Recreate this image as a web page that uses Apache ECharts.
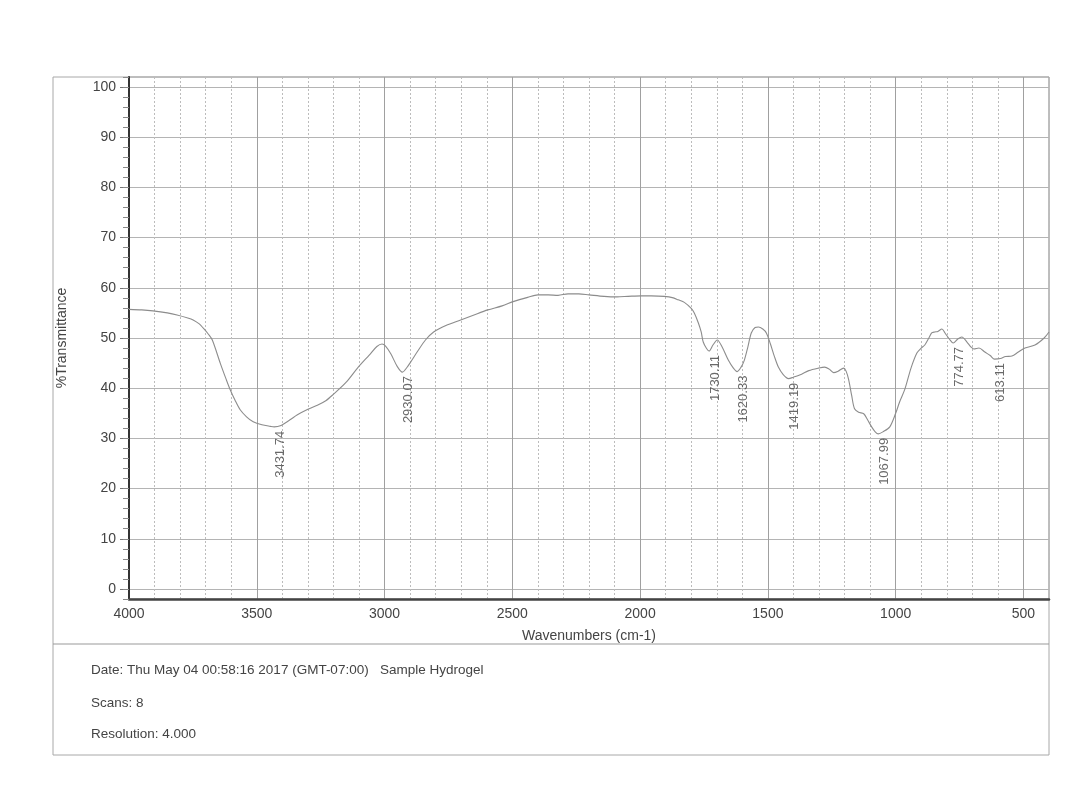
<!DOCTYPE html>
<html>
<head>
<meta charset="utf-8">
<script src="https://cdn.jsdelivr.net/npm/echarts@6/dist/echarts.min.js"></script>
<style>
html,body{margin:0;padding:0;background:#fff;}
#chart{width:1089px;height:797px;}
</style>
</head>
<body>
<div id="chart"></div>
<script>
// Wavenumbers (cm-1) and %Transmittance
const wavenumbers = [4000,3950,3906,3850,3812,3770,3749,3725,3710,3690,3674,3643,3620,3604,3585,3565,3540,3514,3480,3447,3431.74,3408,3370,3341,3300,3263,3230,3204,3150,3106,3060,3030,3010,2996,2975,2950,2930.07,2910,2898,2870,2840,2808,2760,2702,2650,2596,2540,2494,2440,2400,2360,2321,2282,2240,2200,2141,2090,2047,1996,1957,1906,1870,1851,1827,1800,1788,1772,1761,1753,1740,1730.11,1715,1698,1680,1655,1635,1620.33,1605,1592,1578,1565,1550,1537,1520,1506,1490,1475,1459,1440,1419.19,1400,1368,1340,1302,1278,1260,1243,1225,1204,1194,1184,1172,1161,1145,1125,1110,1094,1080,1067.99,1050,1023,1000,985,964,940,917,900,886,870,859,847,835,819,807,790,774.77,757,741,721,705,694,674,651,630,613.11,590,570,545,520,494,455,419,400];
const transmittance = [55.7,55.6,55.4,55.0,54.6,54.0,53.6,52.8,52.0,50.8,49.6,45.0,41.8,39.7,37.6,35.7,34.3,33.3,32.7,32.4,32.3,32.5,33.7,34.7,35.8,36.6,37.5,38.6,41.2,44.0,46.6,48.3,48.8,48.4,46.8,44.3,43.2,44.3,45.2,47.4,49.6,51.2,52.5,53.6,54.6,55.6,56.4,57.3,58.1,58.6,58.6,58.5,58.8,58.8,58.6,58.3,58.2,58.3,58.4,58.4,58.3,58.0,57.6,57.1,55.9,55.0,53.0,51.2,49.2,47.9,47.4,48.6,49.6,48.3,45.6,44.0,43.3,44.2,45.6,48.3,51.0,52.1,52.2,51.8,51.0,48.8,46.4,44.2,42.7,41.9,42.2,42.8,43.5,44.0,44.2,43.8,43.1,43.4,44.0,43.4,41.7,38.5,35.9,35.2,34.9,33.7,32.3,31.3,30.9,31.3,32.3,35.0,37.2,39.8,44.0,47.0,48.0,48.6,50.0,51.0,51.2,51.3,51.8,51.0,49.8,49.0,49.8,50.2,49.2,48.2,47.8,48.0,47.2,46.5,45.8,45.9,46.3,46.4,47.2,48.0,48.6,50.0,51.2];

// Labelled peaks
const peakWavenumbers = [3431.74, 2930.07, 1730.11, 1620.33, 1419.19, 1067.99, 774.77, 613.11];
const peakTransmittance = [32.3, 43.2, 47.4, 43.3, 41.9, 30.9, 49.0, 45.8];

// Tick labels
const xMajorTicks = [4000, 3500, 3000, 2500, 2000, 1500, 1000, 500];
const yMajorTicks = [0, 10, 20, 30, 40, 50, 60, 70, 80, 90, 100];

const infoLines = [
  'Date: Thu May 04 00:58:16 2017 (GMT-07:00)   Sample Hydrogel',
  'Scans: 8',
  'Resolution: 4.000'
];

const FONT = "'Liberation Sans', Arial, sans-serif";
const TXT = '#444';
const INFO_FONT = "13.5px 'Liberation Sans', Arial, sans-serif";

const spectrum = wavenumbers.map((w, i) => [w, transmittance[i]]);
const peaks = peakWavenumbers.map((w, i) => [w, peakTransmittance[i]]);

const chart = echarts.init(document.getElementById('chart'), null, {renderer: 'canvas'});

chart.setOption({
  backgroundColor: '#fff',
  animation: false,
  textStyle: {fontFamily: FONT},
  grid: {
    left: 129, top: 77, width: 920, height: 522,
    show: true, borderColor: '#a8a8a8', borderWidth: 1, backgroundColor: 'transparent'
  },
  xAxis: [
    {
      type: 'value', position: 'bottom', inverse: true,
      min: 400, max: 4000, interval: 100,
      axisLine: {show: false, onZero: false}, axisTick: {show: false}, axisLabel: {show: false},
      splitLine: {show: true, lineStyle: {color: '#bcbcbc', width: 1, type: [2, 2]}}
    },
    {
      type: 'value', position: 'bottom', inverse: true,
      min: 400, max: 4000,
      name: 'Wavenumbers (cm-1)', nameLocation: 'middle', nameGap: 30,
      nameTextStyle: {color: TXT, fontSize: 14, fontFamily: FONT},
      axisLine: {show: true, onZero: false, lineStyle: {color: '#444', width: 2.5}},
      axisTick: {show: false, customValues: xMajorTicks},
      axisLabel: {show: true, customValues: xMajorTicks, color: TXT, fontSize: 14, fontFamily: FONT, margin: 8,
        formatter: v => String(v)},
      splitLine: {show: true, lineStyle: {color: '#a0a0a0', width: 1, type: 'solid'}}
    }
  ],
  yAxis: [
    {
      type: 'value', position: 'left',
      min: -2, max: 102,
      name: '%Transmittance', nameLocation: 'middle', nameGap: 60, nameRotate: 90,
      nameTextStyle: {color: TXT, fontSize: 14, fontFamily: FONT},
      axisLine: {show: true, onZero: false, lineStyle: {color: '#333', width: 2}},
      axisTick: {show: true, customValues: yMajorTicks, length: 9, lineStyle: {color: '#777'}},
      axisLabel: {show: true, customValues: yMajorTicks, color: TXT, fontSize: 14, fontFamily: FONT, margin: 13,
        formatter: v => String(v)},
      splitLine: {show: true, lineStyle: {color: '#b4b4b4', width: 1}}
    },
    {
      type: 'value', position: 'left',
      min: -2, max: 102, interval: 2,
      axisLine: {show: false, onZero: false},
      axisTick: {show: true, length: 6, lineStyle: {color: '#888'}},
      axisLabel: {show: false},
      splitLine: {show: false}
    }
  ],
  series: [
    {
      type: 'line', name: 'Spectrum', xAxisIndex: 1, yAxisIndex: 0,
      data: spectrum, showSymbol: false, symbol: 'none', smooth: 0.3,
      lineStyle: {color: '#8c8c8c', width: 1.1}
    },
    {
      type: 'scatter', name: 'Peaks', xAxisIndex: 1, yAxisIndex: 0,
      data: peaks, symbolSize: 1, itemStyle: {color: 'rgba(0,0,0,0)'},
      label: {
        show: true, position: 'inside', rotate: 90, align: 'right', verticalAlign: 'middle',
        offset: [-4, 6], color: TXT, fontSize: 13, fontFamily: FONT,
        formatter: p => p.value[0].toFixed(2)
      }
    }
  ],
  graphic: [
    {type: 'rect', shape: {x: 53, y: 77, width: 996, height: 678}, style: {fill: 'none', stroke: '#a8a8a8', lineWidth: 1}, silent: true, z: 0},
    {type: 'line', shape: {x1: 53, y1: 644, x2: 1049, y2: 644}, style: {stroke: '#999', lineWidth: 1}, silent: true},
    {type: 'text', left: 91, top: 663, style: {text: infoLines[0], fill: TXT, font: INFO_FONT}},
    {type: 'text', left: 91, top: 696, style: {text: infoLines[1], fill: TXT, font: INFO_FONT}},
    {type: 'text', left: 91, top: 727, style: {text: infoLines[2], fill: TXT, font: INFO_FONT}}
  ]
});
</script>
</body>
</html>
